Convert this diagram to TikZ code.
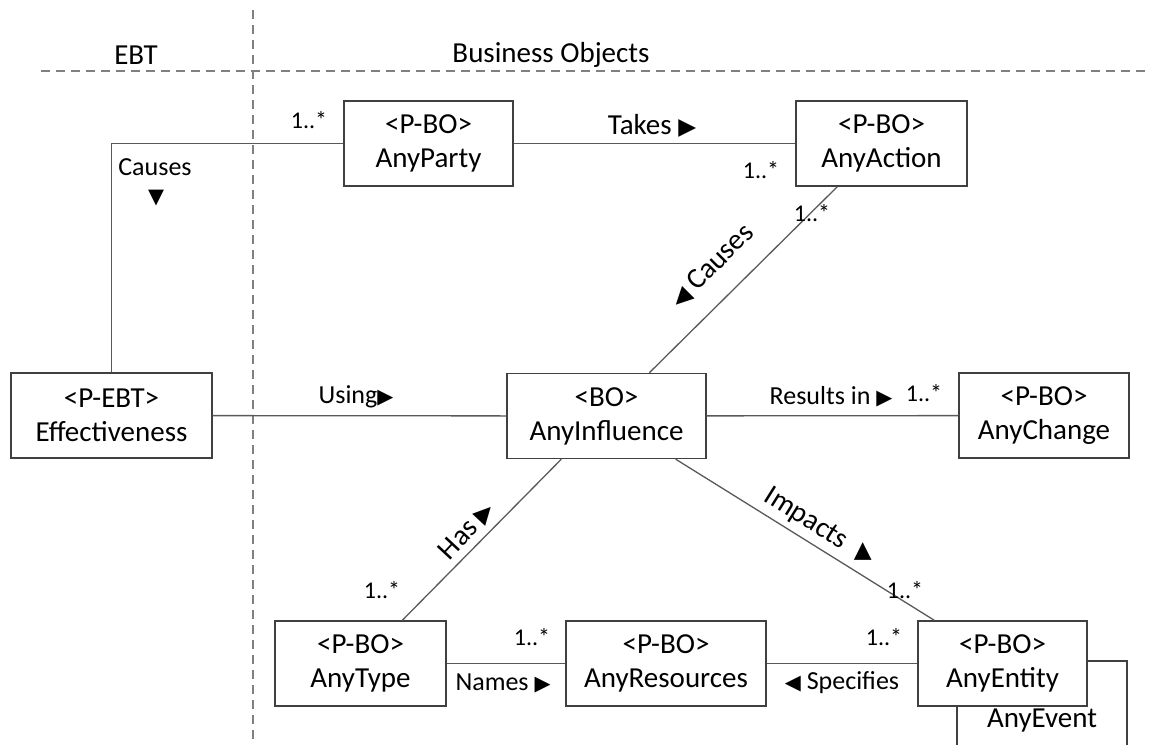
\documentclass[tikz,border=0pt]{standalone}
\usepackage{fontspec}
\setmainfont{Carlito}
\newfontfamily\symfont{DejaVu Sans}
\newcommand{\tri}[1]{\scalebox{0.8}{\symfont #1}}
\newcommand{\bigfont}{\fontsize{29}{34}\selectfont}
\newcommand{\lblfont}{\fontsize{26}{30}\selectfont}
\newcommand{\mulfont}{\fontsize{24}{28}\selectfont}
\colorlet{boxline}{black!75}
\colorlet{conline}{black!65}
\begin{document}
\begin{tikzpicture}[x=1pt, y=-1pt,
  cls/.style={rectangle, draw=boxline, line width=1.4pt, fill=white, minimum height=85pt, align=center, font=\bigfont, inner sep=0pt},
  twoline/.style={cls, execute at begin node={\rule{0pt}{27pt}}},
  lbl/.style={font=\lblfont, inner sep=0pt},
  mul/.style={font=\mulfont, inner sep=0pt},
  hdr/.style={font=\bigfont, inner sep=0pt},
  con/.style={draw=conline, line width=1.3pt},
  sep/.style={draw=black!50, line width=2pt, dash pattern=on 9pt off 6pt}]
\useasboundingbox (0,0) rectangle (1155,744);
\draw[sep] (41,71) -- (1145,71);
\draw[sep] (253,10) -- (253,744);
\node[hdr] (ebt) at (136,55){EBT};
\node[hdr] (bo) at (551,55){Business Objects};
\node[cls, minimum width=170pt, minimum height=120pt] (event) at (1042,721){AnyEvent};
\node[twoline, minimum width=169pt] (party) at (428.5,143.5){<P-BO>\\AnyParty};
\node[twoline, minimum width=171pt] (action) at (881.5,143.5){<P-BO>\\AnyAction};
\node[twoline, minimum width=201pt] (eff) at (111.5,415.5){<P-EBT>\\Effectiveness};
\node[twoline, minimum width=199pt] (infl) at (606.5,416){<BO>\\AnyInfluence};
\node[twoline, minimum width=170pt] (change) at (1044,415.5){<P-BO>\\AnyChange};
\node[twoline, minimum width=171pt] (type) at (360.5,663.5){<P-BO>\\AnyType};
\node[twoline, minimum width=200pt] (res) at (666,663.5){<P-BO>\\AnyResources};
\node[twoline, minimum width=169pt] (entity) at (1002.5,663.5){<P-BO>\\AnyEntity};
\draw[con](eff.north) |- (party.west);
\draw[con](party) -- (action);
\draw[con]([xshift=42pt]action.south west) -- ([xshift=143pt]infl.north west);
\draw[con](eff) -- (infl);
\draw[con](infl) -- (change);
\draw[con]([xshift=55pt]infl.south west) -- ([xshift=128pt]type.north west);
\draw[con]([xshift=-31pt]infl.south east) -- ([xshift=17pt]entity.north west);
\draw[con](type) -- (res);
\draw[con](res) -- (entity);
\node[lbl] (causes1) at (155,167){Causes};
\node[lbl] (causes1tri) at (156,198){\tri{▼}};
\node[mul] (m1) at (309,120){1..*};
\node[hdr] (takes) at (652,126){Takes \tri{▶}};
\node[mul] (m2) at (761,170){1..*};
\node[mul] (m3) at (812,213){1..*};
\node[hdr, rotate=45] (causes2) at (712,266){\tri{◀}\ Causes};
\node[lbl] (using) at (356,397){Using\tri{▶}};
\node[lbl] (results) at (831,397){Results in \tri{▶}};
\node[mul] (m4) at (924,393){1..*};
\node[hdr, rotate=47] (has) at (467,531){Has\ \tri{▶}};
\node[mul] (m5) at (382,590){1..*};
\node[hdr, rotate=-32] (impacts) at (820,526){Impacts \rotatebox{32}{\tri{▲}}};
\node[mul] (m6) at (905,590){1..*};
\node[lbl] (names) at (503,683){Names \tri{▶}};
\node[mul] (m7) at (532,637){1..*};
\node[lbl] (specifies) at (842,683){\tri{◀} Specifies};
\node[mul] (m8) at (884,637){1..*};
\end{tikzpicture}
\end{document}
